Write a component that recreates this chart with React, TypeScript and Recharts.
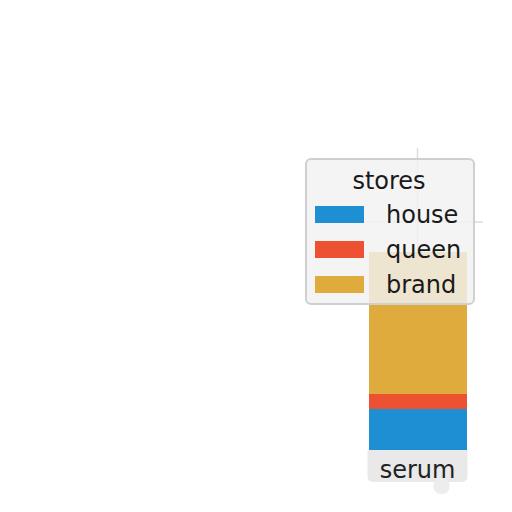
import React from "react";
import { BarChart, Bar, XAxis, YAxis, ReferenceLine, Legend } from "recharts";

const categories = ["serum"];
const houseValues = [21.5];
const queenValues = [7.5];
const brandValues = [71];
const seriesNames = ["house", "queen", "brand"];
const seriesColors = ["#1f8fd4", "#ee5131", "#dfab3d"];
const legendTitle = "stores";

const data = categories.map((c, i) => ({
  name: c,
  house: houseValues[i],
  queen: queenValues[i],
  brand: brandValues[i],
}));

const FONT = "'DejaVu Sans', sans-serif";

const Tick = (props: any) => {
  const { x, y, payload } = props;
  const t = y - 10;
  return (
    <g>
      <path
        d={`M ${x - 50} ${t} L ${x + 50} ${t} L ${x + 50} ${t + 26} Q ${x + 50} ${t + 32} ${x + 44} ${t + 32} L ${x - 44} ${t + 32} Q ${x - 50} ${t + 32} ${x - 50} ${t + 26} Z`}
        fill="#e9e9e9"
      />
      <rect x={x + 16} y={t + 28} width={16} height={16} rx={7} fill="#ededed" />
      <text x={x} y={t + 28} textAnchor="middle" fontFamily={FONT} fontSize={24} fill="#222">
        {payload.value}
      </text>
    </g>
  );
};

const LegendBox = () => (
  <div
    style={{
      width: 170,
      height: 147,
      boxSizing: "border-box",
      border: "2px solid #cfcfcf",
      borderRadius: 6,
      background: "rgba(242,242,242,0.82)",
      position: "relative",
      fontFamily: FONT,
      fontSize: 24,
      color: "#1a1a1a",
    }}
  >
    <div style={{ position: "absolute", top: 6, left: 0, width: 164, textAlign: "center", lineHeight: "30px" }}>
      {legendTitle}
    </div>
    {seriesNames.map((n, i) => (
      <div key={n} style={{ position: "absolute", left: 8, top: 46 + i * 35, height: 17, width: 49, background: seriesColors[i] }} />
    ))}
    {seriesNames.map((n, i) => (
      <div key={n + "t"} style={{ position: "absolute", left: 79, top: 40 + i * 35, lineHeight: "30px" }}>
        {n}
      </div>
    ))}
  </div>
);

export default function App() {
  return (
    <div style={{ position: "absolute", left: 0, top: 0, width: 512, height: 512, background: "#fff" }}>
      <BarChart width={512} height={512} data={data} margin={{ top: 148, right: 29, bottom: 0, left: 352 }}>
        <XAxis dataKey="name" axisLine={false} tickLine={false} tick={<Tick />} height={60} interval={0} />
        <YAxis hide domain={[0, 152]} />
        <ReferenceLine
          segment={[
            { x: "serum", y: 100 },
            { x: "serum", y: 152 },
          ]}
          stroke="#dcdcdc"
          strokeWidth={1.5}
        />
        <ReferenceLine y={115} stroke="#dcdcdc" strokeWidth={1.5} />
        <Bar dataKey="house" stackId="a" fill={seriesColors[0]} barSize={98} isAnimationActive={false} />
        <Bar dataKey="queen" stackId="a" fill={seriesColors[1]} barSize={98} isAnimationActive={false} />
        <Bar dataKey="brand" stackId="a" fill={seriesColors[2]} barSize={98} isAnimationActive={false} />
        <Legend
          layout="horizontal"
          verticalAlign="middle"
          align="center"
          content={<LegendBox />}
          wrapperStyle={{ position: "absolute", left: 305, top: 158, width: 170, height: 147 }}
        />
      </BarChart>
    </div>
  );
}
